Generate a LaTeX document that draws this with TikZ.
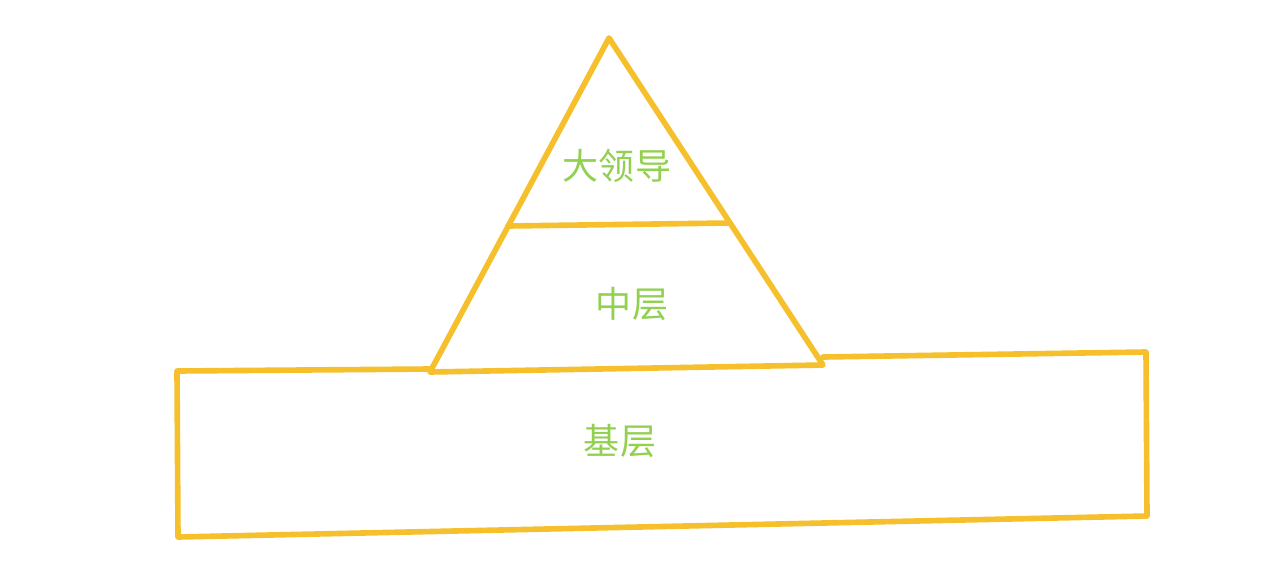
\documentclass[tikz,border=0pt]{standalone}
\usepackage{fontspec}
\newfontfamily\cjk{Noto Sans CJK SC}
\usepackage{tikz}
\usetikzlibrary{positioning}
\definecolor{edgeyellow}{HTML}{F5C02C}
\definecolor{labelgreen}{HTML}{92D050}

\begin{document}
\begin{tikzpicture}[
    % 定義樣式
    x=0.02cm, y=-0.02cm,
    frame/.style={draw=edgeyellow, line width=3.2pt, line join=round, line cap=round},
    level/.style={text=labelgreen, font=\cjk\fontsize{20.5}{25}\selectfont, inner sep=0pt},
]
    \useasboundingbox (0,0) rectangle (1268,582);

    % --- 1. 頂點 ---
    \coordinate (apex) at (609,38);
    \coordinate (ML) at (508,226);
    \coordinate (MR) at (729,223);
    \coordinate (BL) at (430,372);
    \coordinate (BR) at (823,365);
    \coordinate (RL) at (177,371);
    \coordinate (RLin) at (430,369);
    \coordinate (RRin) at (823,357);
    \coordinate (RR) at (1146,352);
    \coordinate (RRb) at (1147,516);
    \coordinate (RLb) at (178,537);

    % --- 2. 三角形 ---
    \draw[frame] (BL) -- (apex) -- (BR) -- cycle;
    \draw[frame] (ML) -- (MR);

    % --- 3. 底座 ---
    \draw[frame] (RLin) -- (RL) -- (RLb) -- (RRb) -- (RR) -- (RRin);

    % --- 4. 標籤 ---
    \node[level] (top) at (617,166) {大领导};
    \node[level] (mid) at (632,304) {中层};
    \node[level] (base) at (620,441) {基层};

\end{tikzpicture}
\end{document}
